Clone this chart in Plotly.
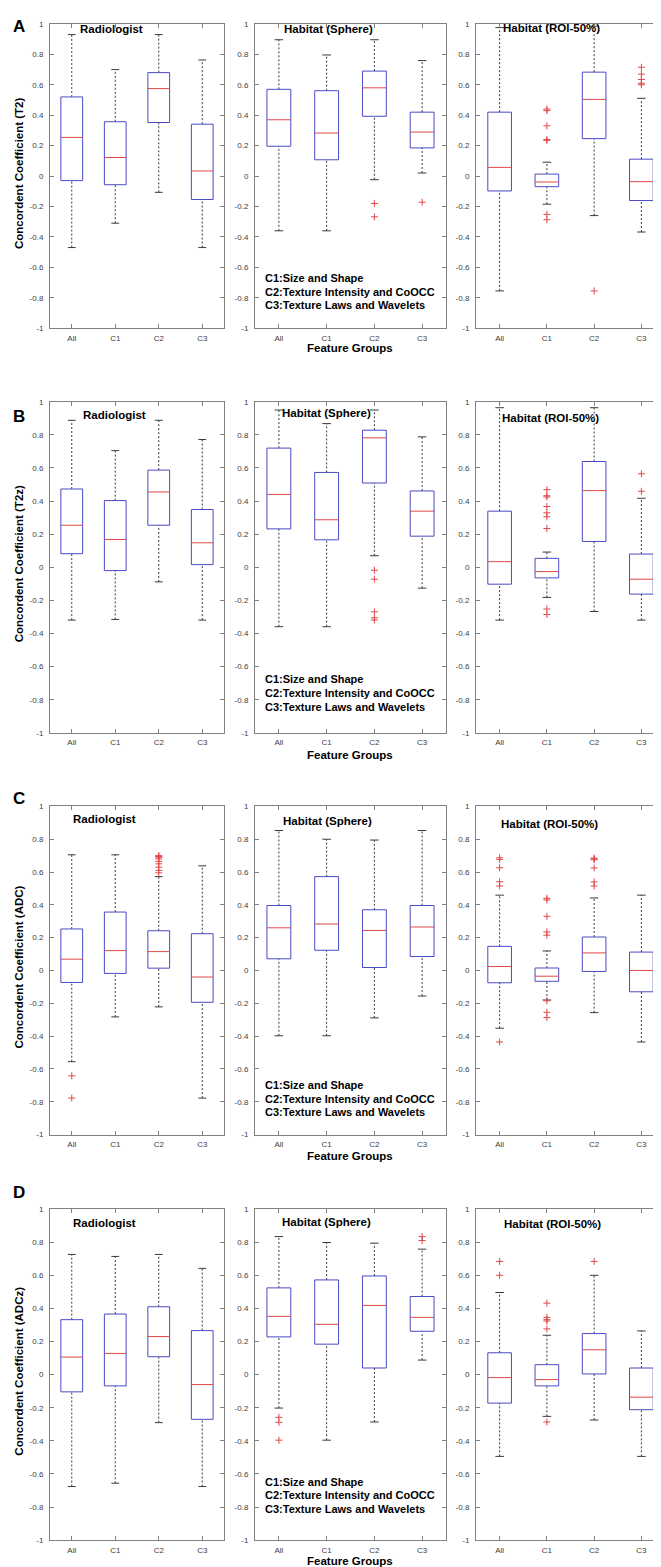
import plotly.graph_objects as go

W, H = 661, 1567

categories = ["All", "C1", "C2", "C3"]
cat_pos = [1, 2, 3, 4]
y_ticks = [-1, -0.8, -0.6, -0.4, -0.2, 0, 0.2, 0.4, 0.6, 0.8, 1]
y_ticktext = ["-1", "-0.8", "-0.6", "-0.4", "-0.2", "0", "0.2", "0.4", "0.6", "0.8", "1"]

row_letters = ["A", "B", "C", "D"]
row_ylabels = ["Concordent Coefficient (T2)", "Concordent Coefficient (T2z)",
               "Concordent Coefficient (ADC)", "Concordent Coefficient (ADCz)"]
panel_titles = ["Radiologist", "Habitat (Sphere)", "Habitat (ROI-50%)"]
legend_lines = ["C1:Size and Shape", "C2:Texture Intensity and CoOCC", "C3:Texture Laws and Wavelets"]
xaxis_title = "Feature Groups"

# each stats row: [lower whisker, q1, median, q3, upper whisker]
t2_radiologist_stats = [[-0.47, -0.03, 0.254, 0.52, 0.93],
                        [-0.31, -0.057, 0.122, 0.357, 0.70],
                        [-0.107, 0.352, 0.575, 0.68, 0.93],
                        [-0.47, -0.154, 0.033, 0.341, 0.763]]
t2_radiologist_outliers = [[], [], [], []]
t2_sphere_stats = [[-0.36, 0.196, 0.37, 0.57, 0.896],
                   [-0.36, 0.107, 0.283, 0.561, 0.796],
                   [-0.024, 0.393, 0.58, 0.69, 0.896],
                   [0.02, 0.185, 0.289, 0.42, 0.759]]
t2_sphere_outliers = [[], [], [-0.18, -0.268], [-0.172]]
t2_roi_stats = [[-0.755, -0.098, 0.057, 0.42, 0.976],
                [-0.185, -0.07, -0.039, 0.013, 0.091],
                [-0.26, 0.246, 0.504, 0.683, 0.985],
                [-0.368, -0.161, -0.037, 0.111, 0.511]]
t2_roi_outliers = [[], [0.44, 0.43, 0.33, 0.24, 0.235, -0.252, -0.287], [-0.755],
                   [0.715, 0.67, 0.635, 0.61, 0.6]]

t2z_radiologist_stats = [[-0.319, 0.082, 0.254, 0.473, 0.888],
                         [-0.315, -0.02, 0.168, 0.403, 0.705],
                         [-0.088, 0.254, 0.455, 0.587, 0.888],
                         [-0.319, 0.016, 0.148, 0.349, 0.772]]
t2z_radiologist_outliers = [[], [], [], []]
t2z_sphere_stats = [[-0.359, 0.232, 0.44, 0.72, 0.95],
                    [-0.359, 0.166, 0.287, 0.573, 0.868],
                    [0.07, 0.509, 0.782, 0.828, 0.95],
                    [-0.126, 0.188, 0.339, 0.461, 0.788]]
t2z_sphere_outliers = [[], [], [-0.018, -0.072, -0.269, -0.305, -0.318], []]
t2z_roi_stats = [[-0.319, -0.102, 0.034, 0.339, 0.964],
                 [-0.182, -0.064, -0.026, 0.054, 0.092],
                 [-0.267, 0.156, 0.463, 0.639, 0.964],
                 [-0.319, -0.162, -0.072, 0.08, 0.417]]
t2z_roi_outliers = [[], [0.469, 0.432, 0.425, 0.367, 0.329, 0.305, 0.234, -0.252, -0.285], [],
                    [0.565, 0.459]]

adc_radiologist_stats = [[-0.556, -0.073, 0.069, 0.253, 0.705],
                         [-0.283, -0.018, 0.121, 0.356, 0.705],
                         [-0.222, 0.014, 0.115, 0.242, 0.572],
                         [-0.778, -0.194, -0.04, 0.224, 0.638]]
adc_radiologist_outliers = [[-0.642, -0.778], [],
                            [0.70, 0.695, 0.69, 0.68, 0.665, 0.65, 0.63, 0.61, 0.595], []]
adc_sphere_stats = [[-0.398, 0.071, 0.26, 0.396, 0.853],
                    [-0.398, 0.123, 0.283, 0.572, 0.8],
                    [-0.289, 0.018, 0.244, 0.37, 0.795],
                    [-0.156, 0.085, 0.265, 0.396, 0.853]]
adc_sphere_outliers = [[], [], [], []]
adc_roi_stats = [[-0.352, -0.075, 0.024, 0.147, 0.459],
                 [-0.18, -0.066, -0.035, 0.015, 0.119],
                 [-0.257, -0.006, 0.107, 0.204, 0.442],
                 [-0.436, -0.13, 0.0, 0.112, 0.459]]
adc_roi_outliers = [[0.687, 0.677, 0.626, 0.541, 0.515, -0.436],
                    [0.44, 0.43, 0.33, 0.235, 0.215, -0.185, -0.255, -0.287],
                    [0.685, 0.68, 0.675, 0.625, 0.54, 0.515], []]

adcz_radiologist_stats = [[-0.676, -0.104, 0.106, 0.332, 0.726],
                          [-0.656, -0.068, 0.128, 0.366, 0.714],
                          [-0.29, 0.108, 0.23, 0.41, 0.726],
                          [-0.676, -0.27, -0.06, 0.266, 0.642]]
adcz_radiologist_outliers = [[], [], [], []]
adcz_sphere_stats = [[-0.202, 0.228, 0.352, 0.524, 0.834],
                     [-0.396, 0.184, 0.304, 0.572, 0.798],
                     [-0.286, 0.04, 0.418, 0.596, 0.794],
                     [0.088, 0.262, 0.346, 0.472, 0.758]]
adcz_sphere_outliers = [[-0.258, -0.288, -0.396], [], [], [0.834, 0.81]]
adcz_roi_stats = [[-0.494, -0.172, -0.018, 0.132, 0.496],
                  [-0.252, -0.068, -0.03, 0.06, 0.238],
                  [-0.274, 0.004, 0.15, 0.248, 0.6],
                  [-0.494, -0.212, -0.136, 0.04, 0.264]]
adcz_roi_outliers = [[0.684, 0.6], [0.432, 0.346, 0.332, 0.324, 0.276, -0.286], [0.684], []]

panels = [
    [(t2_radiologist_stats, t2_radiologist_outliers), (t2_sphere_stats, t2_sphere_outliers), (t2_roi_stats, t2_roi_outliers)],
    [(t2z_radiologist_stats, t2z_radiologist_outliers), (t2z_sphere_stats, t2z_sphere_outliers), (t2z_roi_stats, t2z_roi_outliers)],
    [(adc_radiologist_stats, adc_radiologist_outliers), (adc_sphere_stats, adc_sphere_outliers), (adc_roi_stats, adc_roi_outliers)],
    [(adcz_radiologist_stats, adcz_radiologist_outliers), (adcz_sphere_stats, adcz_sphere_outliers), (adcz_roi_stats, adcz_roi_outliers)],
]

# ---------------- layout (pixel geometry) ----------------
col_px = [(42, 216), (247, 438), (468, 657)]
row_px = [(12, 318), (392, 725), (799, 1129), (1204, 1537)]
title_px = [[(103, 17), (320, 17), (543, 16)],
            [(106, 405), (318, 403), (542, 408)],
            [(96, 812), (319, 814), (541, 817)],
            [(96, 1218), (318, 1217), (544, 1219)]]
legend_px_y = [[268, 282, 295], [671, 685, 699], [1079, 1093, 1106], [1478, 1492, 1506]]
legend_px_x = 255
letter_px_y = [15, 407, 791, 1187]
featgroup_px_y = [338, 747, 1151, 1558]

FONT = "Liberation Sans, Arial, sans-serif"
BOX_COLOR = "#4a4ac4"
MED_COLOR = "#e04848"
WHISK_COLOR = "#3a3a3a"
AX_COLOR = "#808080"
HALF_W = 0.25
CAP_HALF = 0.09


def fx(px):
    return px / W


def fy(py):
    return 1 - py / H


fig = go.Figure()
layout = dict(width=W, height=H, margin=dict(l=0, r=0, t=0, b=0),
              paper_bgcolor="white", plot_bgcolor="white", showlegend=False)
annotations = []

k = 0
for r in range(4):
    for c in range(3):
        k += 1
        xa = "x" if k == 1 else f"x{k}"
        ya = "y" if k == 1 else f"y{k}"
        stats, outs = panels[r][c]

        wx, wy, bx, by, mx, my, cx, cy, ox, oy = ([] for _ in range(10))
        for p, s, o in zip(cat_pos, stats, outs):
            lo, q1, med, q3, hi = s
            wx += [p, p, None, p, p, None]
            wy += [q3, hi, None, lo, q1, None]
            bx += [p - HALF_W, p + HALF_W, p + HALF_W, p - HALF_W, p - HALF_W, None]
            by += [q1, q1, q3, q3, q1, None]
            mx += [p - HALF_W, p + HALF_W, None]
            my += [med, med, None]
            cx += [p - CAP_HALF, p + CAP_HALF, None, p - CAP_HALF, p + CAP_HALF, None]
            cy += [hi, hi, None, lo, lo, None]
            ox += [p] * len(o)
            oy += list(o)

        common = dict(xaxis=xa, yaxis=ya, hoverinfo="skip", showlegend=False)
        fig.add_trace(go.Scatter(x=wx, y=wy, mode="lines",
                                 line=dict(color=WHISK_COLOR, width=1, dash="2px,2px"), **common))
        fig.add_trace(go.Scatter(x=bx, y=by, mode="lines",
                                 line=dict(color=BOX_COLOR, width=1), **common))
        fig.add_trace(go.Scatter(x=mx, y=my, mode="lines",
                                 line=dict(color=MED_COLOR, width=1), **common))
        fig.add_trace(go.Scatter(x=cx, y=cy, mode="lines",
                                 line=dict(color=WHISK_COLOR, width=1), **common))
        if ox:
            fig.add_trace(go.Scatter(x=ox, y=oy, mode="markers",
                                     marker=dict(symbol="cross-thin", size=5,
                                                 line=dict(color=MED_COLOR, width=1)),
                                     **common))

        x0, x1 = col_px[c]
        y0, y1 = row_px[r]
        xkey = "xaxis" if k == 1 else f"xaxis{k}"
        ykey = "yaxis" if k == 1 else f"yaxis{k}"
        layout[xkey] = dict(domain=[fx(x0), fx(x1)], anchor=ya, range=[0.5, 4.5],
                            tickvals=cat_pos, ticktext=categories,
                            ticks="inside", ticklen=4, tickcolor=AX_COLOR,
                            showline=True, linecolor=AX_COLOR, linewidth=1, mirror="ticks",
                            showgrid=False, zeroline=False,
                            tickfont=dict(family=FONT, size=8, color="#404040"),
                            ticklabelstandoff=2, fixedrange=True)
        layout[ykey] = dict(domain=[fy(y1), fy(y0)], anchor=xa, range=[-1, 1],
                            tickvals=y_ticks, ticktext=y_ticktext,
                            ticks="inside", ticklen=4, tickcolor=AX_COLOR,
                            showline=True, linecolor=AX_COLOR, linewidth=1, mirror="ticks",
                            showgrid=False, zeroline=False,
                            tickfont=dict(family=FONT, size=8, color="#404040"),
                            ticklabelstandoff=4, fixedrange=True)

        tx, ty = title_px[r][c]
        annotations.append(dict(text=panel_titles[c], x=fx(tx), y=fy(ty), xref="paper", yref="paper",
                                xanchor="center", yanchor="middle", showarrow=False,
                                font=dict(family=FONT, size=11.5, color="black", weight="bold")))

    # legend text in middle panel
    for line, ly in zip(legend_lines, legend_px_y[r]):
        annotations.append(dict(text=line, x=fx(legend_px_x), y=fy(ly), xref="paper", yref="paper",
                                xanchor="left", yanchor="middle", showarrow=False,
                                font=dict(family=FONT, size=11, color="black", weight="bold")))
    # feature groups
    annotations.append(dict(text=xaxis_title, x=fx(342), y=fy(featgroup_px_y[r]), xref="paper", yref="paper",
                            xanchor="center", yanchor="middle", showarrow=False,
                            font=dict(family=FONT, size=11.5, color="black", weight="bold")))
    # y label
    y0, y1 = row_px[r]
    annotations.append(dict(text=row_ylabels[r], x=fx(11), y=fy((y0 + y1) / 2 - 3), xref="paper", yref="paper",
                            xanchor="center", yanchor="middle", showarrow=False, textangle=-90,
                            font=dict(family=FONT, size=11.5, color="black", weight="bold")))
    # row letter
    annotations.append(dict(text=row_letters[r], x=fx(3), y=fy(letter_px_y[r]), xref="paper", yref="paper",
                            xanchor="left", yanchor="middle", showarrow=False,
                            font=dict(family=FONT, size=17, color="black", weight="bold")))

layout["annotations"] = annotations
fig.update_layout(**layout)
fig.write_html("out.html")
